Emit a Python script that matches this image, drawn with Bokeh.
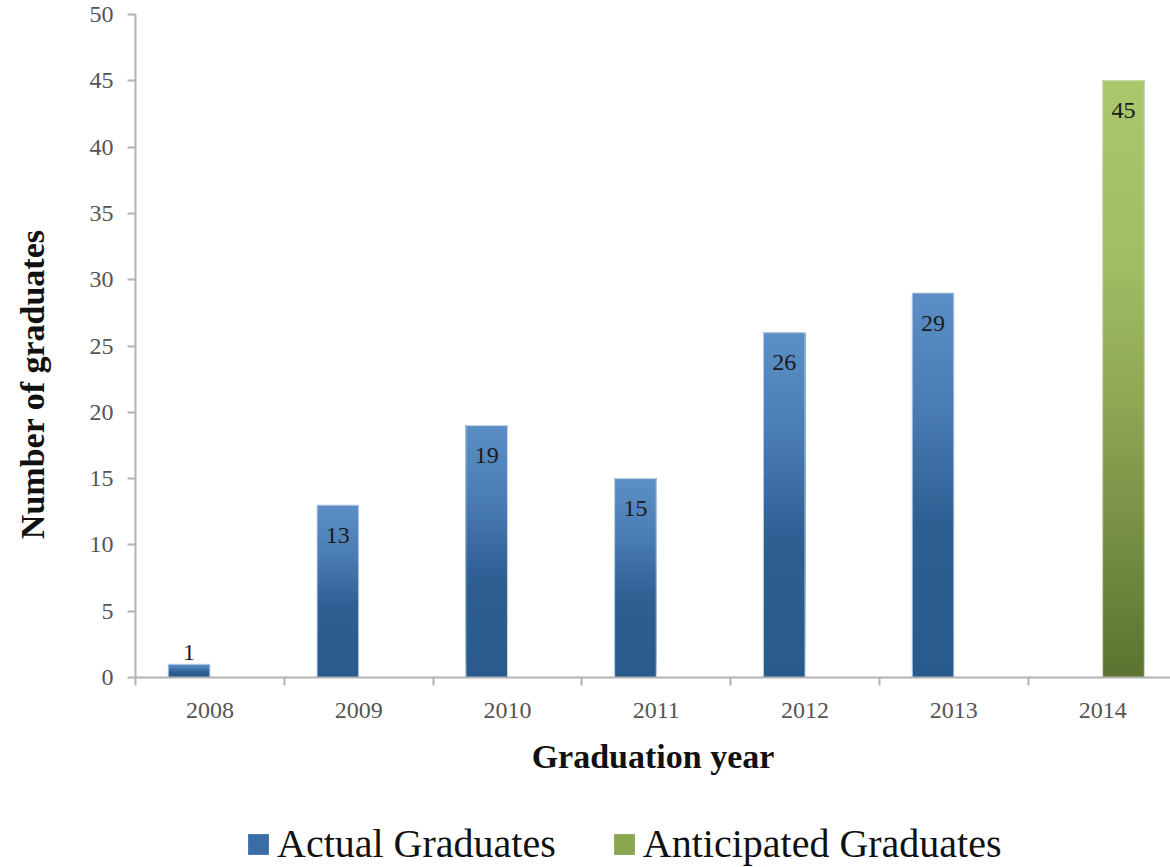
import numpy as np
from bokeh.plotting import figure
from bokeh.layouts import column
from bokeh.models import (Range1d, FixedTicker, Legend, LegendItem, LinearAxis,
                          ColumnDataSource, CustomJSTickFormatter)
from bokeh.embed import file_html
from bokeh.resources import INLINE
from bokeh.core.properties import value

# ---- data -------------------------------------------------------------
years = ["2008", "2009", "2010", "2011", "2012", "2013", "2014"]
actual = [1, 13, 19, 15, 26, 29, None]
anticipated = [None, None, None, None, None, None, 45]

y_ticks = [0, 5, 10, 15, 20, 25, 30, 35, 40, 45, 50]

# ---- styling ----------------------------------------------------------
SERIF = "Liberation Serif"
AXIS_GREY = "#b2b2b2"
BAR_W = 0.28
NBSP = "\u00a0"

# gradient stops (t = 0 at bar base, 1 at bar top)
BLUE_STOPS = [(0.0, "#295a8d"), (0.4, "#2d5f93"), (0.7, "#4a7cb4"), (1.0, "#5d8fc7")]
GREEN_STOPS = [(0.0, "#5c7331"), (0.45, "#8ea555"), (0.7, "#a2bd63"), (1.0, "#abc66c")]


def hex_to_rgb(h):
    h = h.lstrip("#")
    return np.array([int(h[i:i + 2], 16) for i in (0, 2, 4)], dtype=float)


def ramp(stops, t):
    ts = [s[0] for s in stops]
    cols = np.array([hex_to_rgb(s[1]) for s in stops])
    rgb = [np.interp(t, ts, cols[:, c]) for c in range(3)]
    return "#%02x%02x%02x" % tuple(int(round(v)) for v in rgb)


def gradient_bars(values, offset, stops, n=60):
    """Each bar is painted as stacked layers running from a rising base to the
    bar top, so later (lighter) layers cover the upper part without seams."""
    left, right, bottom, top, color = [], [], [], [], []
    for i, v in enumerate(values):
        if v is None:
            continue
        cx = i + 0.5 + offset
        for k in range(n):
            left.append(cx - BAR_W / 2)
            right.append(cx + BAR_W / 2)
            bottom.append(v * k / n)
            top.append(v)
            color.append(ramp(stops, (k + 0.5) / n))
    return ColumnDataSource(dict(left=left, right=right, bottom=bottom, top=top, color=color))


def outline_source(values, offset):
    xs = [i + 0.5 + offset for i, v in enumerate(values) if v is not None]
    vs = [v for v in values if v is not None]
    return ColumnDataSource(dict(left=[x - BAR_W / 2 for x in xs],
                                 right=[x + BAR_W / 2 for x in xs],
                                 top=vs, bottom=[0] * len(vs)))


def label_source(values, offset):
    xs, ys, txt = [], [], []
    for i, v in enumerate(values):
        if v is None:
            continue
        xs.append(i + 0.5 + offset)
        # short bars carry their label just above, others just inside the top
        ys.append(v + 0.89 if v < 3 else v - 2.27)
        txt.append(str(v))
    return ColumnDataSource(dict(x=xs, y=ys, text=txt))


# ---- main chart -------------------------------------------------------
p = figure(width=1170, height=794,
           x_range=Range1d(0, 6.956), y_range=Range1d(0, 50),
           output_backend="svg", toolbar_location=None,
           min_border_left=135, min_border_right=0,
           min_border_top=14, min_border_bottom=117)
p.background_fill_color = "white"
p.border_fill_color = "white"
p.outline_line_color = None
p.xgrid.visible = False
p.ygrid.visible = False

# y axis
yax = p.yaxis[0]
yax.ticker = FixedTicker(ticks=y_ticks, minor_ticks=[])
yax.axis_line_color = AXIS_GREY
yax.axis_line_width = 2
yax.major_tick_line_color = AXIS_GREY
yax.major_tick_line_width = 2
yax.major_tick_in = 0
yax.major_tick_out = 8
yax.minor_tick_line_color = None
yax.major_label_text_font = SERIF
yax.major_label_text_font_size = "24px"
yax.major_label_text_color = "#555555"
yax.major_label_standoff = 14

# y title on a bare outer axis; trailing no-break spaces set it a little
# below the axis midpoint
title_axis = LinearAxis(ticker=FixedTicker(ticks=[]),
                        axis_line_color=None, major_tick_line_color=None,
                        minor_tick_line_color=None, major_tick_out=0, minor_tick_out=0,
                        axis_label="Number of graduates" + NBSP * 9,
                        axis_label_standoff=36,
                        axis_label_text_font=SERIF, axis_label_text_font_style="bold",
                        axis_label_text_font_size="34px", axis_label_text_color="#111111")
p.add_layout(title_axis, "left")

# x axis: labels at category centres, ticks on category boundaries
xax = p.xaxis[0]
xax.ticker = FixedTicker(ticks=[i + 0.5 for i in range(len(years))],
                         minor_ticks=list(range(len(years) + 1)))
xax.formatter = CustomJSTickFormatter(args=dict(labels=years),
                                      code="return labels[Math.floor(tick)] || '';")
xax.axis_line_color = AXIS_GREY
xax.axis_line_width = 2
xax.major_tick_line_color = None
xax.major_tick_in = 0
xax.major_tick_out = 0
xax.minor_tick_line_color = AXIS_GREY
xax.minor_tick_line_width = 2
xax.minor_tick_in = 0
xax.minor_tick_out = 8
xax.major_label_text_font = SERIF
xax.major_label_text_font_size = "24px"
xax.major_label_text_color = "#555555"
xax.major_label_standoff = 17
xax.axis_label = "Graduation year"
xax.axis_label_text_font = SERIF
xax.axis_label_text_font_style = "bold"
xax.axis_label_text_font_size = "34px"
xax.axis_label_text_color = "#111111"
xax.axis_label_standoff = 17

# bars
p.quad(left="left", right="right", bottom="bottom", top="top", fill_color="color",
       line_color=None, source=gradient_bars(actual, -BAR_W / 2, BLUE_STOPS))
p.quad(left="left", right="right", bottom="bottom", top="top", fill_color="color",
       line_color=None, source=gradient_bars(anticipated, BAR_W / 2, GREEN_STOPS))
p.quad(left="left", right="right", bottom="bottom", top="top", fill_color=None,
       line_color="#c6d6ea", line_width=1, source=outline_source(actual, -BAR_W / 2))
p.quad(left="left", right="right", bottom="bottom", top="top", fill_color=None,
       line_color="#d5e2bf", line_width=1, source=outline_source(anticipated, BAR_W / 2))

# value labels
for vals, off in ((actual, -BAR_W / 2), (anticipated, BAR_W / 2)):
    p.text(x="x", y="y", text="text", source=label_source(vals, off),
           text_font=value(SERIF), text_font_size="24px", text_color="#1a1a1a",
           text_align="center", text_baseline="middle")

# ---- legend strip (its frame lines up with the chart frame) -----------
lg = figure(width=1170, height=73, x_range=Range1d(0, 1), y_range=Range1d(0, 1),
            output_backend="svg", toolbar_location=None,
            x_axis_type=None, y_axis_type=None,
            min_border_left=0, min_border_right=0, min_border_top=0, min_border_bottom=0)
lg.outline_line_color = None
lg.xgrid.visible = False
lg.ygrid.visible = False
# hidden swatch-only renderers: they supply the legend keys but draw nothing
r_blue = lg.quad(left=[0], right=[0], bottom=[0], top=[0], fill_color="#3a6da6",
                 line_color=None, visible=False)
r_green = lg.quad(left=[0], right=[0], bottom=[0], top=[0], fill_color="#8aa64f",
                  line_color=None, visible=False)
legend = Legend(items=[LegendItem(label="Actual Graduates", renderers=[r_blue]),
                       LegendItem(label="Anticipated Graduates", renderers=[r_green])],
                orientation="horizontal", location=(110, 0),
                glyph_width=26, glyph_height=26, label_standoff=6, spacing=55,
                padding=0, margin=0, border_line_color=None, background_fill_alpha=0,
                label_text_font=SERIF, label_text_font_size="40px",
                label_text_color="#111111")
lg.add_layout(legend)

layout = column(p, lg, spacing=0)
open("out.html", "w").write(file_html(layout, INLINE))
